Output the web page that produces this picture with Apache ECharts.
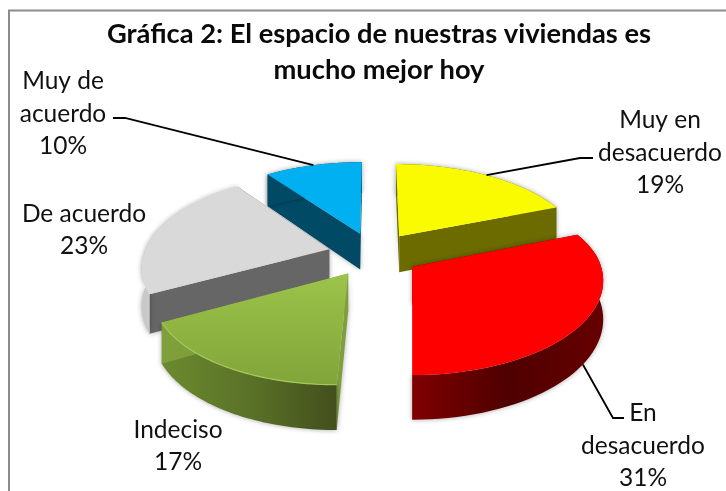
<!DOCTYPE html>
<html>
<head>
<meta charset="utf-8">
<title>Gráfica 2</title>
<script src="https://cdn.jsdelivr.net/npm/echarts@6/dist/echarts.min.js"></script>
<style>
html, body { margin: 0; padding: 0; background: #fff; }
#chart { width: 726px; height: 491px; }
</style>
</head>
<body>
<div id="chart"></div>
<script>
// datos
const categories = ['Muy en\ndesacuerdo', 'En\ndesacuerdo', 'Indeciso', 'De acuerdo', 'Muy de\nacuerdo'];
const values = [19, 31, 17, 23, 10];

// colores de cada porcion
const topColors = ['#fbfb00', '#ff0000', ['#9cc44a', '#82a43a'], '#d9d9d9', '#00b0f0'];
const wallColors = [
  ['#6b6b00', '#6b6b00'],
  ['#800000', '#4f0000', '#660000'],
  ['#6c8a2e', '#5a7228', '#434f1c'],
  ['#c8c8c8', '#e0e0e0'],
  ['#004a66', '#004a66']
];
const faceColors = ['#6b6b00', '#660000', '#7f9f3c', '#666666', '#004a66'];
const rimColors = [null, null, '#a6c95a', null, null];

// posicion del texto y codo de la linea guia
const labelSpots = [
  {x: 660, y: 153, elbow: [593, 158, 580, 158]},
  {x: 643, y: 446, elbow: [624, 418, 613, 418], low: true},
  {x: 178, y: 446},
  {x: 84, y: 230},
  {x: 63, y: 114, elbow: [113, 118, 125, 118]}
];

// proyeccion en perspectiva del disco
const cx = 374, cy = 254;
const scaleX = 185, scaleZ = 88;
const persp = 0.15;
const shear = -7;
const explode = 0.25;
const height = 37;

const project = (x, z, down) => {
  const s = 1 / (1 - persp * z);
  return [
    cx + scaleX * x * s + shear * Math.max(z, 0),
    cy + scaleZ * z * s + (down ? height * s : 0)
  ];
};

const total = values.reduce((a, b) => a + b, 0);

const fillOf = (c, vertical) => {
  if (!Array.isArray(c)) return c;
  return {
    type: 'linear',
    x: 0, y: 0,
    x2: vertical ? 0 : 1,
    y2: vertical ? 1 : 0,
    colorStops: c.map((color, i) => ({offset: i / (c.length - 1), color}))
  };
};

const renderSlice = (params, api) => {
  const idx = params.dataIndex;
  const before = values.slice(0, idx).reduce((a, b) => a + b, 0);
  const a0 = before / total * Math.PI * 2;
  const a1 = (before + api.value(0)) / total * Math.PI * 2;
  const mid = (a0 + a1) / 2;
  const ox = Math.sin(mid) * explode;
  const oz = -Math.cos(mid) * explode;
  const rim = (a) => [ox + Math.sin(a), oz - Math.cos(a)];

  const topRim = [], lowRim = [];
  const steps = 48;
  for (let i = 0; i <= steps; i++) {
    const p = rim(a0 + (a1 - a0) * i / steps);
    topRim.push(project(p[0], p[1], false));
    lowRim.push(project(p[0], p[1], true));
  }
  const apexTop = project(ox, oz, false);
  const apexLow = project(ox, oz, true);
  const order = Math.round(-Math.cos(mid) * 100) * 10 + 2000;
  const shadow = {shadowBlur: 5, shadowColor: 'rgba(0,0,0,0.35)'};

  const poly = (points, style, z2) => ({
    type: 'polygon',
    shape: {points},
    style: Object.assign({lineWidth: 0}, style),
    z2: order + z2,
    silent: true
  });

  const children = [
    poly([apexTop, topRim[0], lowRim[0], apexLow], Object.assign({fill: faceColors[idx]}, shadow), 0),
    poly(topRim.concat(lowRim.slice().reverse()), Object.assign({fill: fillOf(wallColors[idx])}, shadow), 1),
    poly([apexTop, topRim[steps], lowRim[steps], apexLow], {fill: faceColors[idx]}, 2),
    poly([apexTop].concat(topRim), {fill: fillOf(topColors[idx], true)}, 3)
  ];

  // brillo del borde frontal
  if (rimColors[idx]) {
    children.push({
      type: 'polyline',
      shape: {points: topRim},
      style: {stroke: rimColors[idx], lineWidth: 1.2, fill: null},
      z2: order + 4,
      silent: true
    });
  }

  // etiqueta y linea guia
  const spot = labelSpots[idx];
  if (spot.elbow) {
    const m = rim(mid);
    const end = project(m[0], m[1], !!spot.low);
    const e = spot.elbow;
    children.push({
      type: 'polyline',
      shape: {points: [[e[0], e[1]], [e[2], e[3]], end]},
      style: {stroke: '#000', lineWidth: 1.8, fill: null},
      z2: 5000,
      silent: true
    });
  }
  children.push({
    type: 'text',
    style: {
      text: categories[idx] + '\n' + api.value(0) + '%',
      x: spot.x,
      y: spot.y,
      textAlign: 'center',
      textVerticalAlign: 'middle',
      fontFamily: 'Lato',
      fontSize: 24.5,
      lineHeight: 32.5,
      fill: '#111'
    },
    z2: 5001,
    silent: true
  });
  return {type: 'group', children};
};

const chart = echarts.init(document.getElementById('chart'), null, {renderer: 'canvas'});
chart.setOption({
  animation: false,
  backgroundColor: '#fff',
  title: {
    text: 'Gráfica 2: El espacio de nuestras viviendas es\nmucho mejor hoy',
    left: 374,
    top: 11,
    textAlign: 'center',
    textStyle: {fontFamily: 'Lato', fontWeight: 'bold', fontSize: 27.3, lineHeight: 36, color: '#0a0a0a'}
  },
  graphic: [{
    type: 'polyline',
    shape: {points: [[9, 491], [9, 10.5], [726, 10.5]]},
    style: {fill: null, stroke: '#8c8c8c', lineWidth: 2},
    silent: true
  }],
  series: [{
    type: 'custom',
    coordinateSystem: 'none',
    renderItem: renderSlice,
    data: values.map((v) => [v])
  }]
});
</script>
</body>
</html>
